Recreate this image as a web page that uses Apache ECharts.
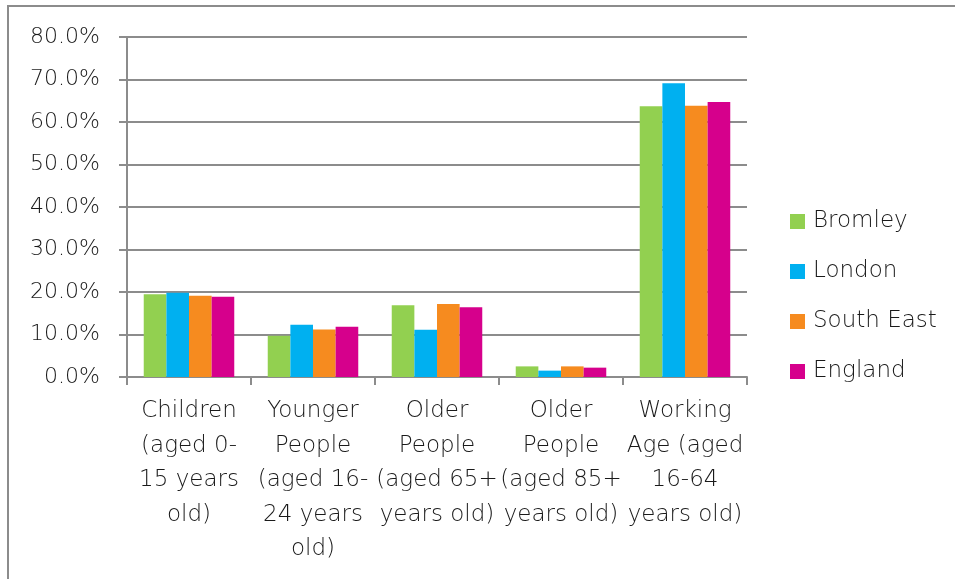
<!DOCTYPE html>
<html><head><meta charset="utf-8">
<script src="https://cdn.jsdelivr.net/npm/echarts@6/dist/echarts.min.js"></script>
<style>html,body{margin:0;padding:0;background:#fff}#c{width:955px;height:579px}</style>
</head><body><div id="c"></div>
<script>
const categories = [
  "Children\n(aged 0-\n15 years\nold)",
  "Younger\nPeople\n(aged 16-\n24 years\nold)",
  "Older\nPeople\n(aged 65+\nyears old)",
  "Older\nPeople\n(aged 85+\nyears old)",
  "Working\nAge (aged\n16-64\nyears old)"
];
const bromley = [19.5, 9.7, 16.9, 2.5, 63.7];
const london = [19.8, 12.3, 11.1, 1.5, 69.1];
const southEast = [19.1, 11.2, 17.2, 2.5, 63.8];
const england = [18.9, 11.8, 16.4, 2.2, 64.7];
const seriesNames = ["Bromley", "London", "South East", "England"];
const colors = ["#92D050", "#00B0F0", "#F68B1F", "#D6008C"];
const yTicks = [0, 10, 20, 30, 40, 50, 60, 70, 80];

const font = "DejaVu Sans";
const weight = 200;
const chart = echarts.init(document.getElementById('c'));
const values = [bromley, london, southEast, england];
chart.setOption({
  animation: false,
  color: colors,
  graphic: [{
    type: 'rect', shape: {x: 8, y: 6, width: 960, height: 600},
    style: {fill: 'none', stroke: '#8c8c8c', lineWidth: 2}, silent: true, z: -1
  }],
  grid: {left: 127, right: 208, top: 37, bottom: 202},
  legend: {
    orient: 'vertical', left: 785, top: 205, itemWidth: 15, itemHeight: 15, itemGap: 27,
    icon: 'rect',
    textStyle: {fontFamily: font, fontWeight: weight, fontSize: 23, color: '#1a1a1a', padding: [0, 0, 0, 3]},
    data: seriesNames
  },
  xAxis: {
    type: 'category', data: categories,
    axisLine: {lineStyle: {color: '#8c8c8c', width: 2}},
    axisTick: {show: true, length: 8, lineStyle: {color: '#8c8c8c', width: 2}},
    axisLabel: {interval: 0, margin: 17, fontFamily: font, fontWeight: weight, fontSize: 23, lineHeight: 34.5, color: '#1a1a1a'}
  },
  yAxis: {
    type: 'value', min: yTicks[0], max: yTicks[yTicks.length - 1], interval: 10,
    axisLine: {show: true, lineStyle: {color: '#8c8c8c', width: 2}},
    axisTick: {show: true, length: 8, lineStyle: {color: '#8c8c8c', width: 2}},
    splitLine: {lineStyle: {color: '#8c8c8c', width: 2}},
    axisLabel: {margin: 27, fontFamily: font, fontWeight: weight, fontSize: 22, color: '#1a1a1a',
      formatter: v => v.toFixed(1) + '%'}
  },
  series: seriesNames.map((n, i) => ({
    name: n, type: 'bar', data: values[i], barGap: '0%', barCategoryGap: '27%'
  }))
});
</script></body></html>
